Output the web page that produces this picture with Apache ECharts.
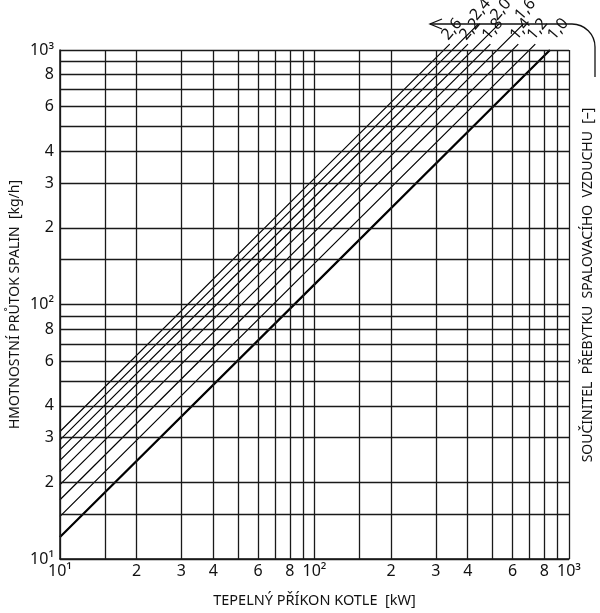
<!DOCTYPE html>
<html>
<head>
<meta charset="utf-8">
<title>Hmotnostní průtok spalin</title>
<script src="https://cdn.jsdelivr.net/npm/echarts@6/dist/echarts.min.js"></script>
<style>
  html, body { margin: 0; padding: 0; background: #fff; }
  #chart { width: 600px; height: 613px; }
</style>
</head>
<body>
<div id="chart"></div>
<script>
// grid lines of the log paper (same on both axes)
const gridValues = [10, 15, 20, 30, 40, 50, 60, 70, 80, 90, 100, 150, 200, 300, 400, 500, 600, 700, 800, 900, 1000];
// values that carry a tick label
const tickLabels = [10, 20, 30, 40, 60, 80, 100, 200, 300, 400, 600, 800, 1000];

// excess air coefficient of each line
const alphaLabels = ['1,0', '1,2', '1,4', '1,6', '1,8', '2,0', '2,2', '2,4', '2,6'];
// flue gas flow [kg/h] at 10 kW and at 100 kW
const flowAt10 = [12.2, 14.7, 17.1, 19.6, 22.0, 24.4, 26.9, 29.4, 31.7];
const flowAt100 = [120, 145, 169, 193, 217, 241, 265, 290, 313];
// upper end of each line (it runs a little past the top of the grid)
const endPower = [842, 737, 632, 661, 491, 530, 401, 440, 340];
const endFlow = [1000, 1055, 1055, 1263, 1055, 1263, 1055, 1263, 1055];

const FONT = '"Noto Sans", "DejaVu Sans", sans-serif';
const INK = '#111';

// 10 -> 10¹ etc.
function formatTick(v) {
  if (v === 10) return '10\u00b9';
  if (v === 100) return '10\u00b2';
  if (v === 1000) return '10\u00b3';
  const s = String(v);
  return s.charAt(0);
}

const labelStyle = { fontSize: 16, color: INK, fontFamily: FONT };

// markLine items for the paper grid, labelled where the picture has a number
const gridLines = [];
gridValues.forEach(function (v) {
  const hasLabel = tickLabels.indexOf(v) >= 0;
  gridLines.push({
    xAxis: v,
    label: hasLabel
      ? Object.assign({ show: true, position: 'start', distance: 4, formatter: formatTick(v) }, labelStyle)
      : { show: false }
  });
  gridLines.push({
    yAxis: v,
    label: hasLabel
      ? Object.assign({ show: true, position: 'start', distance: 6, formatter: formatTick(v) }, labelStyle)
      : { show: false }
  });
});

const series = [{
  type: 'line',
  data: [],
  z: 1,
  markLine: {
    silent: true,
    symbol: ['none', 'none'],
    lineStyle: { color: '#1a1a1a', width: 1.3, type: 'solid' },
    emphasis: { disabled: true },
    data: gridLines
  }
}];

alphaLabels.forEach(function (name, i) {
  series.push({
    name: name,
    type: 'line',
    z: 3,
    clip: false,
    showSymbol: false,
    silent: true,
    lineStyle: { color: '#000', width: i === 0 ? 2.2 : 1.2 },
    data: [
      [10, flowAt10[i]],
      [100, flowAt100[i]],
      [endPower[i], endFlow[i]]
    ]
  });
});

const axisCommon = {
  type: 'log',
  logBase: 10,
  min: 10,
  max: 1000,
  axisLine: { show: true, lineStyle: { color: '#111', width: 1.5 } },
  axisTick: { show: false },
  axisLabel: { show: false },
  splitLine: { show: false },
  minorTick: { show: false },
  nameTextStyle: { fontSize: 14, color: INK, fontFamily: FONT }
};

const chart = echarts.init(document.getElementById('chart'), null, { renderer: 'canvas' });

chart.setOption({
  animation: false,
  backgroundColor: '#fff',
  grid: { left: 57, right: 31, top: 50, bottom: 51 },
  xAxis: Object.assign({}, axisCommon, {
    name: 'TEPELNÝ PŘÍKON KOTLE  [kW]',
    nameLocation: 'middle',
    nameGap: 34,
    nameTextStyle: { fontSize: 14.5, color: INK, fontFamily: FONT }
  }),
  yAxis: Object.assign({}, axisCommon, {
    name: 'HMOTNOSTNÍ PRŮTOK SPALIN  [kg/h]',
    nameLocation: 'middle',
    nameGap: 38
  }),
  series: series
});

// labels at the ends of the lines, arrow and the right-hand title
const graphics = [];
alphaLabels.forEach(function (name, i) {
  const p = chart.convertToPixel({ gridIndex: 0 }, [endPower[i], endFlow[i]]);
  const off = i === 0 ? 7 : 1;
  graphics.push({
    type: 'text',
    x: p[0] + off,
    y: p[1] - off,
    rotation: 50 * Math.PI / 180,
    style: {
      text: name,
      fill: INK,
      font: '16px ' + FONT,
      textAlign: 'left',
      textVerticalAlign: 'bottom'
    }
  });
});

const arrowStyle = { stroke: '#111', lineWidth: 1.3, fill: null };
graphics.push(
  { type: 'polyline', shape: { points: [[430, 24], [572, 24]] }, style: arrowStyle },
  { type: 'polyline', shape: { points: [[442, 19], [430, 24], [442, 29]] }, style: arrowStyle },
  { type: 'arc', shape: { cx: 572, cy: 47, r: 23, startAngle: -Math.PI / 2, endAngle: 0, clockwise: true }, style: arrowStyle },
  { type: 'polyline', shape: { points: [[595, 47], [595, 77]] }, style: arrowStyle },
  {
    type: 'text',
    x: 588,
    y: 285,
    rotation: Math.PI / 2,
    style: {
      text: 'SOUČINITEL  PŘEBYTKU  SPALOVACÍHO  VZDUCHU  [–]',
      fill: INK,
      font: '14px ' + FONT,
      textAlign: 'center',
      textVerticalAlign: 'middle'
    }
  }
);

chart.setOption({ graphic: graphics });
</script>
</body>
</html>
